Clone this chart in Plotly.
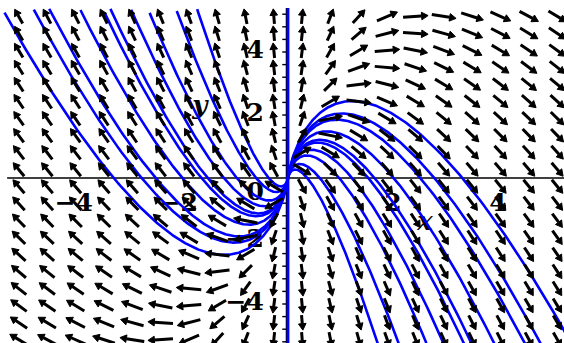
import numpy as np
import plotly.graph_objects as go

# Direction field of the system  x' = x,  y' = y - 2x  (dy/dx = y/x - 2)
# with the solution curves y = x * (C - 2 ln|x|) through the origin.

# integration constants C of the drawn solution curves
curve_constants = [-2.0, -1.0, -0.05, 0.4, 0.85, 1.0, 1.4, 1.85, 2.05, 2.4]
# the vertical solution x = 0
axis_solution_x = [0, 0]
axis_solution_y = [-5.4, 5.4]

# sample points of the direction field (same on both axes)
field_grid = [-5.13, -4.59, -4.05, -3.51, -2.97, -2.43, -1.89, -1.35, -0.81, -0.27,
              0.27, 0.81, 1.35, 1.89, 2.43, 2.97, 3.51, 4.05, 4.59, 5.13]

x_tick_values = [-4, -2, 2, 4]
x_tick_text = ["\u22124", "\u22122", "2", "4"]
y_tick_values = [4, 2, 0, -2, -4]
y_tick_text = ["4", "2", "0", "\u22122", "\u22124"]
y_minor_ticks = [round(0.4 * k, 1) for k in range(-13, 14) if k != 0]

DOMAIN = 5.4
X_RANGE = [-5.486, 5.257]
Y_RANGE = [-5.238, 5.651]
W, H = 564, 343
SX = W / (X_RANGE[1] - X_RANGE[0])   # pixels per x unit
SY = H / (Y_RANGE[1] - Y_RANGE[0])   # pixels per y unit

BLUE = "#0000ff"
INK = "#000000"


def field(x, y):
    return x, y - 2 * x


fig = go.Figure()

# axes
fig.add_trace(go.Scatter(x=[-DOMAIN + 0.05, DOMAIN], y=[0, 0], mode="lines",
                         line=dict(color=INK, width=1.4), hoverinfo="skip"))
fig.add_trace(go.Scatter(x=[-0.03, -0.03], y=[-DOMAIN, DOMAIN], mode="lines",
                         line=dict(color=INK, width=1.4), hoverinfo="skip"))
tx, ty = [], []
for t in y_minor_ticks:
    tx += [-0.11, -0.03, None]
    ty += [t, t, None]
fig.add_trace(go.Scatter(x=tx, y=ty, mode="lines",
                         line=dict(color=INK, width=1.4), hoverinfo="skip"))

# tick labels and axis names
lab_font = dict(family="DejaVu Serif", size=25, color=INK)
fig.add_trace(go.Scatter(x=[v - 0.08 if v < 0 else v for v in x_tick_values],
                         y=[-0.85] * len(x_tick_values),
                         mode="text", text=["<b>%s</b>" % s for s in x_tick_text],
                         textposition="middle center", textfont=lab_font,
                         hoverinfo="skip"))
fig.add_trace(go.Scatter(x=[-0.46] * len(y_tick_values),
                         y=[v if v != 0 else -0.5 for v in y_tick_values],
                         mode="text", text=["<b>%s</b>" % s for s in y_tick_text],
                         textposition="middle left", textfont=lab_font,
                         hoverinfo="skip"))
name_font = dict(family="DejaVu Serif", size=26, color=INK)
fig.add_trace(go.Scatter(x=[-1.68, 2.61], y=[2.25, -1.46], mode="text",
                         text=["<b><i>y</i></b>", "<b><i>x</i></b>"],
                         textposition="middle center", textfont=name_font,
                         hoverinfo="skip"))

# solution curves
xs_pos = np.geomspace(1e-4, DOMAIN, 700)
for c in curve_constants:
    for sign in (-1, 1):
        xs = sign * xs_pos
        ys = xs * (c - 2 * np.log(np.abs(xs)))
        ys = np.where(np.abs(ys) <= DOMAIN, ys, np.nan)
        fig.add_trace(go.Scatter(x=np.concatenate([[0.0], xs]),
                                 y=np.concatenate([[0.0], ys]),
                                 mode="lines", line=dict(color=BLUE, width=2.6),
                                 connectgaps=False, hoverinfo="skip"))
fig.add_trace(go.Scatter(x=axis_solution_x, y=axis_solution_y, mode="lines",
                         line=dict(color=BLUE, width=2.8), hoverinfo="skip"))

# direction field arrows: shafts and filled heads
L = 0.48
head_len = 6.5   # px
head_half = 3.8  # px
sx_, sy_, hx, hy = [], [], [], []
for gx in field_grid:
    for gy in field_grid:
        u, v = field(gx, gy)
        n = np.hypot(u, v)
        du, dv = u / n, v / n
        x0, y0 = gx - du * L / 2, gy - dv * L / 2
        x1, y1 = gx + du * L / 2, gy + dv * L / 2
        # screen-space unit direction and normal
        px, py = du * SX, dv * SY
        pn = np.hypot(px, py)
        px, py = px / pn, py / pn
        nx, ny = -py, px
        # shaft stops at the base of the head
        bxp, byp = x1 - px * head_len / SX, y1 - py * head_len / SY
        sx_ += [x0, bxp, None]
        sy_ += [y0, byp, None]
        hx += [x1, bxp + nx * head_half / SX, bxp - nx * head_half / SX, x1, None]
        hy += [y1, byp + ny * head_half / SY, byp - ny * head_half / SY, y1, None]
fig.add_trace(go.Scatter(x=sx_, y=sy_, mode="lines",
                         line=dict(color=INK, width=3), hoverinfo="skip"))
fig.add_trace(go.Scatter(x=hx, y=hy, mode="lines", fill="toself", fillcolor=INK,
                         line=dict(color=INK, width=1), hoverinfo="skip"))

fig.update_layout(
    width=W, height=H,
    margin=dict(l=0, r=0, t=0, b=0),
    paper_bgcolor="white", plot_bgcolor="white",
    showlegend=False,
    xaxis=dict(range=X_RANGE, visible=False, fixedrange=True),
    yaxis=dict(range=Y_RANGE, visible=False, fixedrange=True),
)

fig.write_html("out.html")
